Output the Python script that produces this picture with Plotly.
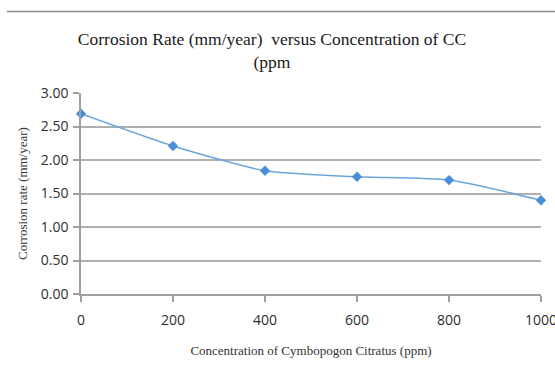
import plotly.graph_objects as go

concentration = [0, 200, 400, 600, 800, 1000]
corrosion_rate = [2.69, 2.21, 1.84, 1.75, 1.70, 1.40]
y_ticks = [0, 0.5, 1.0, 1.5, 2.0, 2.5, 3.0]
x_ticks = [0, 200, 400, 600, 800, 1000]

fig = go.Figure()
fig.add_trace(go.Scatter(
    x=concentration, y=corrosion_rate, mode="lines+markers",
    line=dict(color="#6aa6dc", width=1.5, shape="spline", smoothing=0.6),
    marker=dict(symbol="diamond", size=8, color="#4a8fd8"),
    showlegend=False, cliponaxis=False,
))

fig.update_layout(
    width=555, height=372,
    margin=dict(l=81, r=14, t=93, b=78),
    paper_bgcolor="white", plot_bgcolor="white",
    title=dict(
        text="Corrosion Rate (mm/year)  versus Concentration of CC<br>(ppm",
        x=272/555, xanchor="center", y=1 - 45/372, yanchor="top",
        font=dict(family="Liberation Serif", size=17.5, color="#1a1a1a"),
    ),
    xaxis=dict(
        range=[0, 1000], tickvals=x_ticks, ticktext=[str(v) for v in x_ticks],
        showgrid=False, showline=True, linecolor="#a0a0a0", linewidth=1.5,
        ticks="outside", ticklen=6, tickcolor="#a0a0a0", tickwidth=1.5,
        tickfont=dict(family="Open Sans", size=14, color="#2e2e2e"),
        ticklabeloverflow="allow", ticklabelstandoff=6, automargin=False,
        zeroline=False,
        title=dict(text="Concentration of Cymbopogon Citratus (ppm)",
                   font=dict(family="Liberation Serif", size=13, color="#333333"),
                   standoff=18),
    ),
    yaxis=dict(
        range=[0, 3], tickvals=y_ticks, ticktext=[f"{v:.2f}" for v in y_ticks],
        showgrid=True, gridcolor="#b0b0b0", gridwidth=1.5,
        showline=True, linecolor="#a0a0a0", linewidth=1.5,
        ticks="outside", ticklen=6, tickcolor="#a0a0a0", tickwidth=1.5,
        tickfont=dict(family="Open Sans", size=14, color="#2e2e2e"),
        ticklabelstandoff=2, automargin=False,
        zeroline=False,
        title=dict(text="Corrosion rate (mm/year)",
                   font=dict(family="Liberation Serif", size=13, color="#333333"),
                   standoff=10),
    ),
    shapes=[dict(type="line", xref="paper", yref="paper",
                 x0=(7 - 81) / 460, x1=(555 - 81) / 460,
                 y0=(294 - 11.5) / 201, y1=(294 - 11.5) / 201,
                 line=dict(color="#8c8c8c", width=1.5))],
)

fig.write_html("out.html")
